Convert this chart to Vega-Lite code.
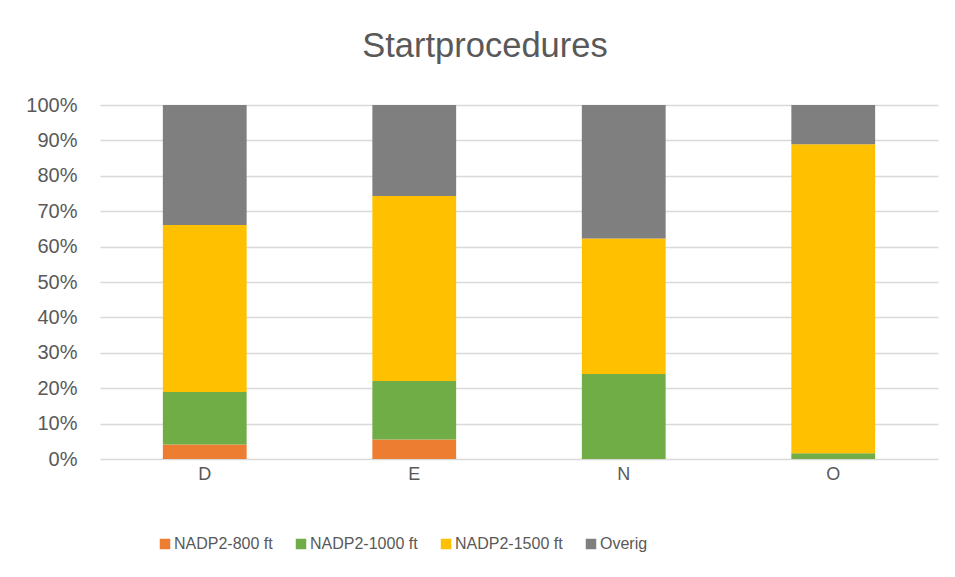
{
  "$schema": "https://vega.github.io/schema/vega-lite/v6.json",
  "autosize": "none",
  "width": 838,
  "height": 354,
  "padding": {"left": 100, "top": 105, "right": 17, "bottom": 118},
  "background": "white",
  "title": {
    "text": "Startprocedures",
    "font": "Liberation Sans",
    "fontSize": 34.5,
    "fontWeight": "normal",
    "color": "#595959",
    "anchor": "middle",
    "dx": -34,
    "offset": 31
  },
  "data": {
    "values": [
      {"cat": "D", "serie": "NADP2-800 ft", "k": 1, "v": 4.1},
      {"cat": "D", "serie": "NADP2-1000 ft", "k": 2, "v": 14.8},
      {"cat": "D", "serie": "NADP2-1500 ft", "k": 3, "v": 47.2},
      {"cat": "D", "serie": "Overig", "k": 4, "v": 33.9},
      {"cat": "E", "serie": "NADP2-800 ft", "k": 1, "v": 5.5},
      {"cat": "E", "serie": "NADP2-1000 ft", "k": 2, "v": 16.5},
      {"cat": "E", "serie": "NADP2-1500 ft", "k": 3, "v": 52.3},
      {"cat": "E", "serie": "Overig", "k": 4, "v": 25.7},
      {"cat": "N", "serie": "NADP2-800 ft", "k": 1, "v": 0},
      {"cat": "N", "serie": "NADP2-1000 ft", "k": 2, "v": 24.0},
      {"cat": "N", "serie": "NADP2-1500 ft", "k": 3, "v": 38.3},
      {"cat": "N", "serie": "Overig", "k": 4, "v": 37.7},
      {"cat": "O", "serie": "NADP2-800 ft", "k": 1, "v": 0},
      {"cat": "O", "serie": "NADP2-1000 ft", "k": 2, "v": 1.6},
      {"cat": "O", "serie": "NADP2-1500 ft", "k": 3, "v": 87.3},
      {"cat": "O", "serie": "Overig", "k": 4, "v": 11.1}
    ]
  },
  "mark": {"type": "bar"},
  "encoding": {
    "x": {
      "field": "cat",
      "type": "nominal",
      "title": null,
      "scale": {"paddingInner": 0.6, "paddingOuter": 0.3},
      "axis": {
        "labelAngle": 0,
        "domain": false,
        "ticks": false,
        "labelPadding": 6,
        "labelFont": "Liberation Sans",
        "labelFontSize": 18,
        "labelColor": "#595959"
      }
    },
    "y": {
      "field": "v",
      "type": "quantitative",
      "stack": "normalize",
      "title": null,
      "scale": {"domain": [0, 1]},
      "axis": {
        "values": [0, 0.1, 0.2, 0.3, 0.4, 0.5, 0.6, 0.7, 0.8, 0.9, 1],
        "format": ".0%",
        "domain": false,
        "ticks": false,
        "labelPadding": 23,
        "labelFont": "Liberation Sans",
        "labelFontSize": 20,
        "labelColor": "#595959",
        "gridColor": "#D9D9D9",
        "gridWidth": 1.5
      }
    },
    "color": {
      "field": "serie",
      "type": "nominal",
      "sort": ["NADP2-800 ft", "NADP2-1000 ft", "NADP2-1500 ft", "Overig"],
      "scale": {
        "domain": ["NADP2-800 ft", "NADP2-1000 ft", "NADP2-1500 ft", "Overig"],
        "range": ["#ED7D31", "#70AD47", "#FFC000", "#7F7F7F"]
      },
      "legend": {
        "title": null,
        "orient": "none",
        "direction": "horizontal",
        "legendX": 57,
        "legendY": 431,
        "columns": 4,
        "columnPadding": 20,
        "symbolType": "square",
        "symbolSize": 110,
        "symbolStrokeWidth": 0,
        "labelFont": "Liberation Sans",
        "labelFontSize": 16,
        "labelColor": "#595959",
        "labelOffset": 1
      }
    },
    "order": {"field": "k", "type": "quantitative", "sort": "ascending"}
  },
  "config": {
    "view": {"stroke": null}
  }
}
